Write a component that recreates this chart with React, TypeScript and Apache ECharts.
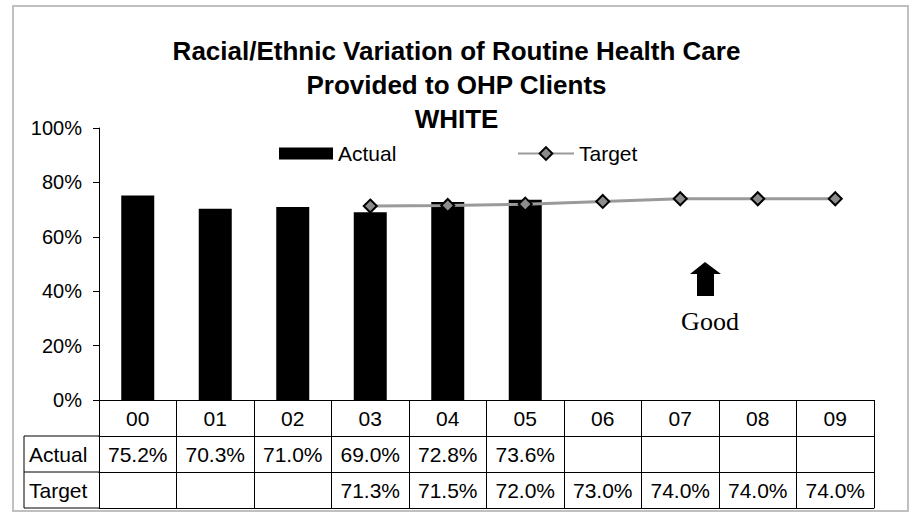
import React, { useEffect, useRef } from 'react';
import * as echarts from 'echarts';

const categories = ['00', '01', '02', '03', '04', '05', '06', '07', '08', '09'];
const actualValues: (number | null)[] = [75.2, 70.3, 71.0, 69.0, 72.8, 73.6, null, null, null, null];
const targetValues: (number | null)[] = [null, null, null, 71.3, 71.5, 72.0, 73.0, 74.0, 74.0, 74.0];
const titleLines = ['Racial/Ethnic Variation of Routine Health Care', 'Provided to OHP Clients', 'WHITE'];
const rowLabels = ['Actual', 'Target'];
const annotationText = 'Good';

const FONT = "'Liberation Sans', Arial, sans-serif";
const GRID_LEFT = 99;
const GRID_RIGHT_X = 874;
const GRID_TOP = 128;
const GRID_BOTTOM_Y = 400;
const ROW_H = 36;
const HEADER_LEFT = 24;

const fmt = (v: number | null) => (v == null ? '' : v.toFixed(1) + '%');

export default function App() {
  const ref = useRef<HTMLDivElement>(null);
  useEffect(() => {
    if (!ref.current) return;
    const chart = echarts.init(ref.current, undefined, { renderer: 'svg' });
    const lineStyleBlack = { color: '#000', width: 1 };
    const tableAxisBase = {
      type: 'category' as const,
      data: categories,
      position: 'bottom' as const,
      gridIndex: 0,
      axisLine: { show: true, lineStyle: lineStyleBlack },
      axisTick: { show: false },
      splitLine: { show: false },
    };
    const legendText = { fontFamily: FONT, fontSize: 21, color: '#000' };
    chart.setOption({
      animation: false,
      backgroundColor: '#fff',
      title: {
        text: titleLines.join('\n'),
        left: 'center',
        top: 29,
        textStyle: { fontFamily: FONT, fontSize: 26, fontWeight: 'bold', color: '#000', lineHeight: 34 },
      },
      legend: [
        {
          left: 274,
          top: 138,
          itemWidth: 54,
          itemHeight: 12,
          textStyle: legendText,
          data: [{ name: 'Actual', icon: 'rect' }],
        },
        {
          left: 512,
          top: 138,
          itemWidth: 56,
          itemHeight: 16,
          textStyle: legendText,
          data: [{ name: 'Target' }],
        },
      ],
      grid: {
        left: GRID_LEFT,
        right: 913 - GRID_RIGHT_X,
        top: GRID_TOP,
        bottom: 513 - GRID_BOTTOM_Y,
        containLabel: false,
      },
      xAxis: [
        {
          type: 'category',
          data: categories,
          position: 'bottom',
          axisLine: { show: true, lineStyle: lineStyleBlack },
          axisTick: { show: true, length: ROW_H * 3, interval: 0, lineStyle: lineStyleBlack },
          axisLabel: { interval: 0, margin: 8, fontFamily: FONT, fontSize: 21, color: '#000' },
          splitLine: { show: false },
        },
        {
          ...tableAxisBase,
          offset: ROW_H,
          axisLabel: {
            interval: 0,
            margin: 8,
            fontFamily: FONT,
            fontSize: 21,
            color: '#000',
            formatter: (_v: string, i: number) => fmt(actualValues[i]),
          },
        },
        {
          ...tableAxisBase,
          offset: ROW_H * 2,
          axisLabel: {
            interval: 0,
            margin: 8,
            fontFamily: FONT,
            fontSize: 21,
            color: '#000',
            formatter: (_v: string, i: number) => fmt(targetValues[i]),
          },
        },
        {
          ...tableAxisBase,
          offset: ROW_H * 3,
          axisLabel: { show: false },
        },
      ],
      yAxis: {
        type: 'value',
        min: 0,
        max: 100,
        interval: 20,
        axisLine: { show: true, lineStyle: lineStyleBlack },
        axisTick: { show: true, length: 6, lineStyle: lineStyleBlack },
        axisLabel: { formatter: '{value}%', margin: 17, fontFamily: FONT, fontSize: 20, color: '#000' },
        splitLine: { show: false },
      },
      series: [
        {
          name: 'Actual',
          type: 'bar',
          data: actualValues,
          barWidth: 33,
          itemStyle: { color: '#000' },
          z: 2,
        },
        {
          name: 'Target',
          type: 'line',
          data: targetValues,
          symbol: 'diamond',
          symbolSize: 13,
          lineStyle: { color: '#9a9a9a', width: 3 },
          itemStyle: { color: '#8c8c8c', borderColor: '#000', borderWidth: 2 },
          z: 3,
        },
      ],
      graphic: [
        {
          type: 'rect',
          silent: true,
          z: -10,
          shape: { x: 13, y: 6, width: 895, height: 505 },
          style: { fill: 'none', stroke: '#c0c0c0', lineWidth: 2 },
        },
        ...[1, 2, 3].map((k) => ({
          type: 'line',
          silent: true,
          shape: { x1: HEADER_LEFT, y1: GRID_BOTTOM_Y + ROW_H * k, x2: GRID_LEFT, y2: GRID_BOTTOM_Y + ROW_H * k },
          style: { stroke: '#000', lineWidth: 1 },
        })),
        {
          type: 'line',
          silent: true,
          shape: { x1: HEADER_LEFT, y1: GRID_BOTTOM_Y + ROW_H, x2: HEADER_LEFT, y2: GRID_BOTTOM_Y + ROW_H * 3 },
          style: { stroke: '#000', lineWidth: 1 },
        },
        ...rowLabels.map((t, k) => ({
          type: 'text',
          silent: true,
          x: HEADER_LEFT + 5,
          y: GRID_BOTTOM_Y + ROW_H * (k + 1) + ROW_H / 2,
          style: { text: t, fontFamily: FONT, fontSize: 21, fill: '#000', textAlign: 'left', textVerticalAlign: 'middle' },
        })),
        {
          type: 'polygon',
          silent: true,
          shape: {
            points: [
              [705, 262],
              [721, 274],
              [714, 274],
              [714, 296],
              [697, 296],
              [697, 274],
              [690, 274],
            ],
          },
          style: { fill: '#000' },
        },
        {
          type: 'text',
          silent: true,
          x: 710,
          y: 321,
          style: {
            text: annotationText,
            fontFamily: "'Liberation Serif', 'Times New Roman', serif",
            fontSize: 26,
            fill: '#000',
            textAlign: 'center',
            textVerticalAlign: 'middle',
          },
        },
      ],
    });
    return () => chart.dispose();
  }, []);
  return (
    <div
      ref={ref}
      style={{ position: 'absolute', left: 0, top: 0, width: 913, height: 513, background: '#fff' }}
    />
  );
}
